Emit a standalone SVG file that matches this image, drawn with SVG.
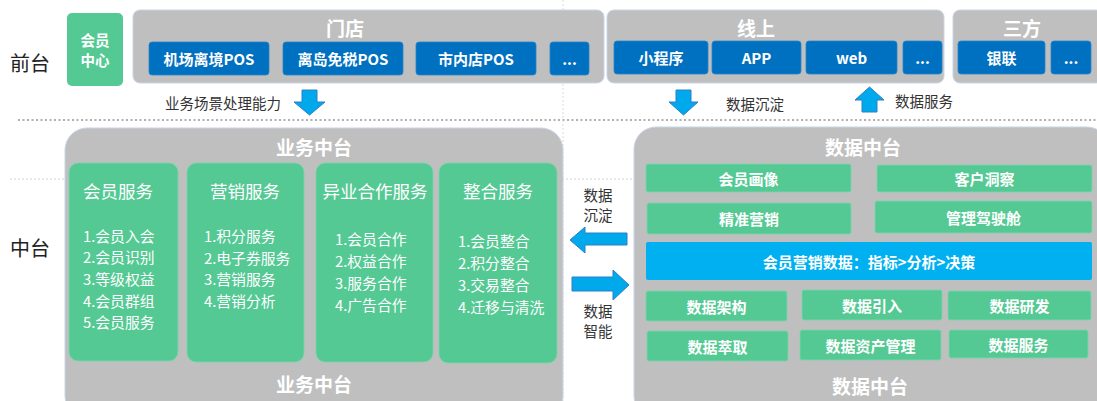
<svg xmlns="http://www.w3.org/2000/svg" width="1097" height="401" viewBox="0 0 1097 401">
<defs>
<style>
text{font-family:"Noto Sans CJK SC","Noto Sans",sans-serif}
.gray{fill:#BFBFBF;stroke:#C9D5E8;stroke-width:1}
.green{fill:#55C994}
.gcard{fill:#55C994;stroke:#7BD6AB;stroke-width:0.8}
.blue{fill:#0070C0;stroke:#2A86C8;stroke-width:0.8}
.lb{fill:#00B0F0}
.arr{fill:#00A8EC;stroke:#2E7FC8;stroke-width:1}
.wt{fill:#fff;font-weight:bold;text-anchor:middle;dominant-baseline:central}
.t14{font-size:15px}
.t17{font-size:19px}
.side{font-size:20px;fill:#222;dominant-baseline:central}
.lab{font-size:14.5px;fill:#333;dominant-baseline:central}
.mid{font-size:14.5px;fill:#333;dominant-baseline:central;text-anchor:middle}
.col{fill:#fff;font-size:17.5px;text-anchor:middle;dominant-baseline:central}
.item{fill:#fff;font-size:14.8px;dominant-baseline:central}
</style>
</defs>
<rect width="1097" height="401" fill="#fff"/>
<!-- guide lines -->
<g id="guides">
<line x1="18" y1="120" x2="1097" y2="120" stroke="#AFAFAF" stroke-width="2.2" stroke-dasharray="2 2.5"/>
<line x1="10" y1="179" x2="1097" y2="179" stroke="#C8C8C8" stroke-width="0.8" stroke-dasharray="2 2"/>
<line x1="563" y1="0" x2="563" y2="401" stroke="#D0D0D0" stroke-width="0.8" stroke-dasharray="2 2"/>
</g>
<text class="side" x="10" y="62">前台</text>
<text class="side" x="10" y="247">中台</text>
<!-- Front -->
<g id="member-center">
<rect class="green" x="67" y="13" width="56" height="73" rx="5"/>
<text class="wt" x="95" y="39" style="font-size:14.5px">会员</text>
<text class="wt" x="95" y="59" style="font-size:14.5px">中心</text>
</g>
<g id="store">
<rect class="gray" x="133" y="10" width="471" height="73" rx="7"/>
<text class="wt t17" x="345" y="27">门店</text>
<rect class="blue" x="149" y="42" width="120" height="33" rx="3"/>
<text class="wt t14" x="209" y="58.5">机场离境POS</text>
<rect class="blue" x="283" y="42" width="120" height="33" rx="3"/>
<text class="wt t14" x="343" y="58.5">离岛免税POS</text>
<rect class="blue" x="416" y="42" width="120" height="33" rx="3"/>
<text class="wt t14" x="476" y="58.5">市内店POS</text>
<rect class="blue" x="550" y="42" width="39" height="33" rx="3"/>
<text class="wt t14" x="569.5" y="58.5">...</text>
</g>
<g id="online">
<rect class="gray" x="607" y="10" width="337" height="73" rx="7"/>
<text class="wt t17" x="756" y="27">线上</text>
<rect class="blue" x="614" y="41" width="94" height="33" rx="3"/>
<text class="wt t14" x="661" y="57.5">小程序</text>
<rect class="blue" x="712" y="41" width="89" height="33" rx="3"/>
<text class="wt t14" x="756.5" y="57.5">APP</text>
<rect class="blue" x="806" y="41" width="91" height="33" rx="3"/>
<text class="wt t14" x="851.5" y="57.5">web</text>
<rect class="blue" x="903" y="41" width="39" height="33" rx="3"/>
<text class="wt t14" x="922.5" y="57.5">...</text>
</g>
<g id="third-party">
<rect class="gray" x="953" y="10" width="150" height="73" rx="7"/>
<text class="wt t17" x="1022" y="27">三方</text>
<rect class="blue" x="958" y="41" width="87" height="33" rx="3"/>
<text class="wt t14" x="1001.5" y="57.5">银联</text>
<rect class="blue" x="1051" y="41" width="40" height="33" rx="3"/>
<text class="wt t14" x="1071" y="57.5">...</text>
</g>
<!-- connectors -->
<g id="connectors">
<path class="arr" d="M302,90 H317 V102 H325 L309.5,115 L294,102 H302 Z"/>
<path class="arr" d="M676,90 H691 V102 H698 L683.5,115 L669,102 H676 Z"/>
<path class="arr" d="M862,112 H877 V100 H884 L869.5,87 L855,100 H862 Z"/>
<path class="arr" d="M627,233 V245 H585 V253 L570,240 L585,227 V233 Z"/>
<path class="arr" d="M572,277 V291 H613 V300 L629,285 L613,270 V277 Z"/>
</g>
<text class="lab" x="165" y="102">业务场景处理能力</text>
<text class="lab" x="726" y="103">数据沉淀</text>
<text class="lab" x="895" y="100">数据服务</text>
<text class="mid" x="598" y="194">数据</text>
<text class="mid" x="598" y="214">沉淀</text>
<text class="mid" x="598" y="310">数据</text>
<text class="mid" x="598" y="330">智能</text>
<!-- Business middle platform -->
<g id="biz-platform">
<rect class="gray" x="65" y="128" width="498" height="290" rx="22"/>
<text class="wt t17" x="314" y="146">业务中台</text>
<text class="wt t17" x="314" y="383">业务中台</text>
</g>
<g id="member-service">
<rect class="gcard" x="69" y="163" width="109" height="198" rx="9"/>
<text class="col" x="83" y="190" style="text-anchor:start">会员服务</text>
<text class="item" x="83" y="235">1.会员入会</text>
<text class="item" x="83" y="256">2.会员识别</text>
<text class="item" x="83" y="278">3.等级权益</text>
<text class="item" x="83" y="300">4.会员群组</text>
<text class="item" x="83" y="321">5.会员服务</text>
</g>
<g id="marketing-service">
<rect class="gcard" x="187" y="163" width="117" height="199" rx="9"/>
<text class="col" x="245" y="190">营销服务</text>
<text class="item" x="204" y="235">1.积分服务</text>
<text class="item" x="204" y="257">2.电子券服务</text>
<text class="item" x="204" y="278">3.营销服务</text>
<text class="item" x="204" y="300">4.营销分析</text>
</g>
<g id="cross-service">
<rect class="gcard" x="316" y="163" width="117" height="199" rx="9"/>
<text class="col" x="375" y="190">异业合作服务</text>
<text class="item" x="335" y="238">1.会员合作</text>
<text class="item" x="335" y="260">2.权益合作</text>
<text class="item" x="335" y="282">3.服务合作</text>
<text class="item" x="335" y="304">4.广告合作</text>
</g>
<g id="integration-service">
<rect class="gcard" x="439" y="163" width="118" height="200" rx="9"/>
<text class="col" x="498" y="190">整合服务</text>
<text class="item" x="458" y="240">1.会员整合</text>
<text class="item" x="458" y="262">2.积分整合</text>
<text class="item" x="458" y="284">3.交易整合</text>
<text class="item" x="458" y="306">4.迁移与清洗</text>
</g>
<!-- Data middle platform -->
<g id="data-platform">
<rect class="gray" x="634" y="127" width="475" height="291" rx="22"/>
<text class="wt t17" x="863" y="146">数据中台</text>
<text class="wt t17" x="870" y="385">数据中台</text>
</g>
<g id="dp-profile"><rect class="gcard" x="646" y="164" width="205" height="28" rx="2"/><text class="wt t14" x="748.5" y="178">会员画像</text></g>
<g id="dp-insight"><rect class="gcard" x="877" y="165" width="215" height="27" rx="2"/><text class="wt t14" x="984.5" y="178.5">客户洞察</text></g>
<g id="dp-precise"><rect class="gcard" x="647" y="203" width="204" height="31" rx="2"/><text class="wt t14" x="749" y="218.5">精准营销</text></g>
<g id="dp-cockpit"><rect class="gcard" x="875" y="201" width="217" height="32" rx="2"/><text class="wt t14" x="983.5" y="217">管理驾驶舱</text></g>
<g id="dp-data-bar"><rect class="lb" x="646" y="242" width="446" height="38" rx="2"/><text class="wt t14" x="869" y="261">会员营销数据：指标&gt;分析&gt;决策</text></g>
<g id="dp-arch"><rect class="gcard" x="646" y="291" width="141" height="30" rx="2"/><text class="wt t14" x="716.5" y="306">数据架构</text></g>
<g id="dp-import"><rect class="gcard" x="802" y="290" width="140" height="30" rx="2"/><text class="wt t14" x="872" y="305">数据引入</text></g>
<g id="dp-dev"><rect class="gcard" x="948" y="291" width="143" height="29" rx="2"/><text class="wt t14" x="1019.5" y="305.5">数据研发</text></g>
<g id="dp-extract"><rect class="gcard" x="647" y="331" width="141" height="30" rx="2"/><text class="wt t14" x="717.5" y="346">数据萃取</text></g>
<g id="dp-asset"><rect class="gcard" x="800" y="330" width="141" height="30" rx="2"/><text class="wt t14" x="870.5" y="345">数据资产管理</text></g>
<g id="dp-service"><rect class="gcard" x="949" y="330" width="139" height="28" rx="2"/><text class="wt t14" x="1018.5" y="344">数据服务</text></g>
</svg>
